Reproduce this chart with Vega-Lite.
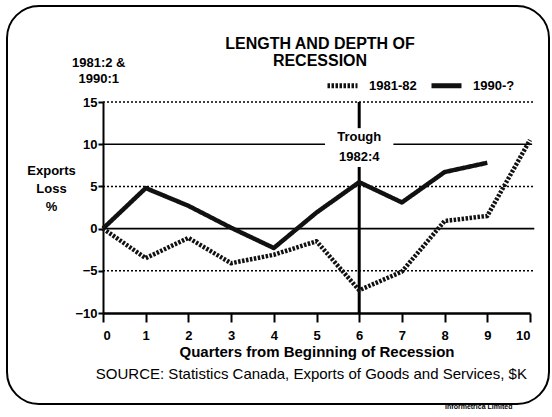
{
  "$schema": "https://vega.github.io/schema/vega-lite/v6.json",
  "width": 542,
  "height": 398,
  "autosize": "none",
  "padding": {"left": 7, "top": 6, "right": 3, "bottom": 13},
  "background": "white",
  "title": {
    "text": ["LENGTH AND DEPTH OF", "RECESSION"],
    "font": "Liberation Sans",
    "fontSize": 16,
    "fontWeight": "bold",
    "lineHeight": 17,
    "anchor": "middle",
    "frame": "group",
    "dx": 42,
    "offset": -63,
    "color": "black"
  },
  "config": {
    "view": {"stroke": "black", "strokeWidth": 2, "cornerRadius": 32},
    "font": "Liberation Sans"
  },
  "datasets": {
    "series": [
      {"q": 0, "series": "1981-82", "value": 0},
      {"q": 1, "series": "1981-82", "value": -3.5},
      {"q": 2, "series": "1981-82", "value": -1.1},
      {"q": 3, "series": "1981-82", "value": -4.1},
      {"q": 4, "series": "1981-82", "value": -3.1},
      {"q": 5, "series": "1981-82", "value": -1.5},
      {"q": 6, "series": "1981-82", "value": -7.3},
      {"q": 7, "series": "1981-82", "value": -5.1},
      {"q": 8, "series": "1981-82", "value": 0.9},
      {"q": 9, "series": "1981-82", "value": 1.5},
      {"q": 10, "series": "1981-82", "value": 10.5},
      {"q": 0, "series": "1990-?", "value": 0},
      {"q": 1, "series": "1990-?", "value": 4.8},
      {"q": 2, "series": "1990-?", "value": 2.7},
      {"q": 3, "series": "1990-?", "value": 0.1},
      {"q": 4, "series": "1990-?", "value": -2.3},
      {"q": 5, "series": "1990-?", "value": 1.9},
      {"q": 6, "series": "1990-?", "value": 5.5},
      {"q": 7, "series": "1990-?", "value": 3.1},
      {"q": 8, "series": "1990-?", "value": 6.7},
      {"q": 9, "series": "1990-?", "value": 7.8}
    ],
    "dottedrules": [
      {"x": 0, "x2": 10.1, "y": 15},
      {"x": 0, "x2": 10.1, "y": 5},
      {"x": 0, "x2": 10.1, "y": -5}
    ],
    "solidrules": [
      {"x": 0, "x2": 5.2, "y": 10},
      {"x": 6.8, "x2": 10.05, "y": 10},
      {"x": 0, "x2": 10.1, "y": 0}
    ],
    "vrules": [
      {"x": 6, "y": 15, "y2": 11.9},
      {"x": 6, "y": 7.3, "y2": -10}
    ],
    "boldnotes": [
      {"x": -0.1, "y": 19.6, "label": "1981:2 &"},
      {"x": -0.1, "y": 17.7, "label": "1990:1"},
      {"x": 6, "y": 10.85, "label": "Trough"},
      {"x": 6, "y": 8.5, "label": "1982:4"}
    ],
    "source": [
      {"x": 4.88, "y": -17.2, "label": "SOURCE: Statistics Canada, Exports of Goods and Services, $K"}
    ],
    "credit": [
      {"x": 8.8, "y": -21.1, "label": "Informetrica Limited"}
    ]
  },
  "layer": [
    {
      "data": {"name": "dottedrules"},
      "mark": {"type": "rule", "color": "black", "strokeWidth": 1.5, "strokeDash": [2, 2], "clip": false},
      "encoding": {
        "x": {"field": "x", "type": "quantitative", "scale": {"domain": [0, 10], "range": [96, 523], "nice": false, "zero": false},
          "axis": {
            "offset": -91,
            "values": [0, 1, 2, 3, 4, 5, 6, 7, 8, 9, 10],
            "domainColor": "black", "domainWidth": 2.5,
            "tickColor": "black", "tickWidth": 2, "tickSize": 9,
            "labelFont": "Liberation Sans", "labelFontSize": 13, "labelFontWeight": "bold", "labelColor": "black", "labelPadding": 7,
            "grid": false,
            "title": "Quarters from Beginning of Recession",
            "titleFont": "Liberation Sans", "titleFontSize": 15, "titleFontWeight": "bold", "titleColor": "black",
            "titleY": 31, "titleBaseline": "top"
          }
        },
        "x2": {"field": "x2"},
        "y": {"field": "y", "type": "quantitative", "scale": {"domain": [-10, 15], "range": [307, 96], "nice": false, "zero": false},
          "axis": {
            "offset": -96,
            "values": [-10, -5, 0, 5, 10, 15],
            "domainColor": "black", "domainWidth": 2,
            "tickColor": "black", "tickWidth": 2, "tickSize": 5,
            "labelFont": "Liberation Sans", "labelFontSize": 13, "labelFontWeight": "bold", "labelColor": "black", "labelPadding": 1,
            "grid": false,
            "title": ["Exports", "Loss", "%"],
            "titleFont": "Liberation Sans", "titleFontSize": 13, "titleFontWeight": "bold", "titleColor": "black",
            "titleAngle": 0, "titleX": -52, "titleY": 158, "titleAlign": "center", "titleBaseline": "top", "titleLineHeight": 18
          }
        }
      }
    },
    {
      "data": {"name": "solidrules"},
      "mark": {"type": "rule", "color": "black", "strokeWidth": 1.6, "clip": false},
      "encoding": {
        "x": {"field": "x", "type": "quantitative"},
        "x2": {"field": "x2"},
        "y": {"field": "y", "type": "quantitative"}
      }
    },
    {
      "data": {"name": "vrules"},
      "mark": {"type": "rule", "color": "black", "strokeWidth": 3, "clip": false},
      "encoding": {
        "x": {"field": "x", "type": "quantitative"},
        "y": {"field": "y", "type": "quantitative"},
        "y2": {"field": "y2"}
      }
    },
    {
      "data": {"name": "series"},
      "mark": {"type": "line", "color": "#111", "strokeWidth": 4.5, "strokeCap": "butt", "strokeJoin": "round", "clip": false},
      "encoding": {
        "x": {"field": "q", "type": "quantitative"},
        "y": {"field": "value", "type": "quantitative"},
        "strokeDash": {
          "field": "series", "type": "nominal",
          "scale": {"domain": ["1981-82", "1990-?"], "range": [[2.5, 1.5], [1, 0]]},
          "legend": {
            "title": null, "orient": "none", "direction": "horizontal",
            "legendX": 318, "legendY": 62,
            "symbolType": "stroke", "symbolStrokeWidth": 5, "symbolSize": 900, "symbolStrokeColor": "#111",
            "labelFont": "Liberation Sans", "labelFontSize": 13, "labelFontWeight": "bold", "labelColor": "black",
            "labelOffset": 9, "columnPadding": 4
          }
        }
      }
    },
    {
      "data": {"name": "boldnotes"},
      "mark": {"type": "text", "font": "Liberation Sans", "fontSize": 13, "fontWeight": "bold", "color": "black", "align": "center", "baseline": "middle", "clip": false},
      "encoding": {
        "x": {"field": "x", "type": "quantitative"},
        "y": {"field": "y", "type": "quantitative"},
        "text": {"field": "label"}
      }
    },
    {
      "data": {"name": "source"},
      "mark": {"type": "text", "font": "Liberation Sans", "fontSize": 15, "color": "black", "align": "center", "baseline": "middle", "clip": false},
      "encoding": {
        "x": {"field": "x", "type": "quantitative"},
        "y": {"field": "y", "type": "quantitative"},
        "text": {"field": "label"}
      }
    },
    {
      "data": {"name": "credit"},
      "mark": {"type": "text", "font": "Liberation Sans", "fontSize": 7, "fontWeight": "bold", "color": "black", "align": "center", "baseline": "middle", "clip": false},
      "encoding": {
        "x": {"field": "x", "type": "quantitative"},
        "y": {"field": "y", "type": "quantitative"},
        "text": {"field": "label"}
      }
    }
  ]
}
